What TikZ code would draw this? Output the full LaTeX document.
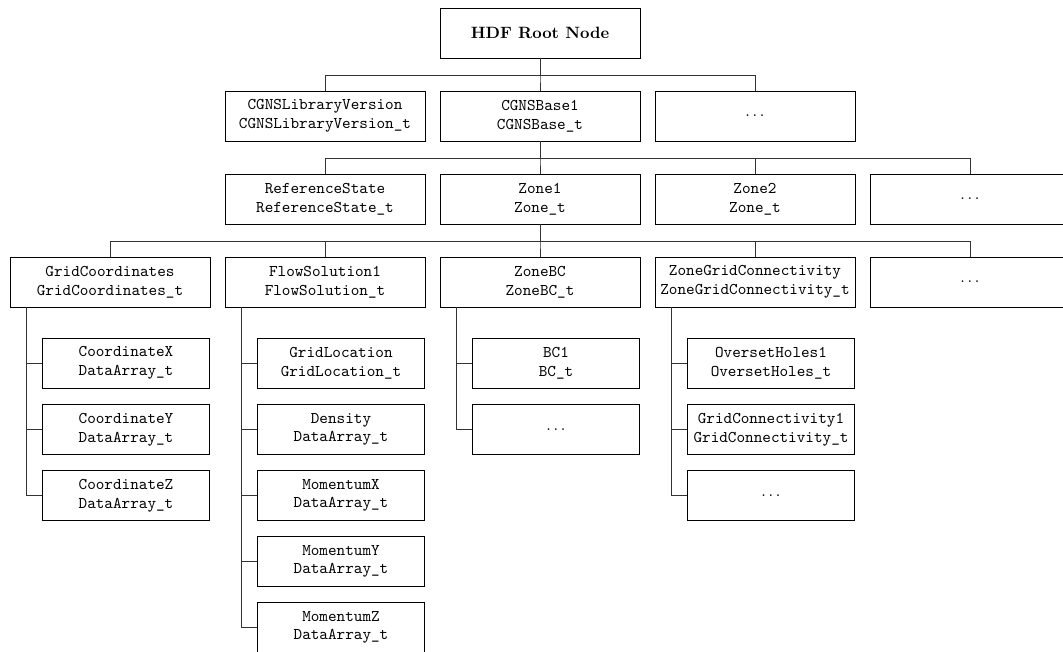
\documentclass[tikz,border=0pt]{standalone}
\usetikzlibrary{calc}
\begin{document}
\begin{tikzpicture}[x=0.61pt,y=-0.61pt,
  box/.style={draw=black, line width=0.5pt, minimum width=122pt, minimum height=30.5pt, inner sep=0pt,
    align=center, font=\ttfamily\fontsize{10}{11.4}\selectfont},
  kid/.style={box, minimum width=101.5pt},
  rootbox/.style={box, font=\bfseries\fontsize{10}{12}\selectfont},
  link/.style={draw=black!80, line width=0.5pt}]
\clip (0,0) rectangle (1063,651);
% rows
\node[rootbox] (root) at (540,33) {HDF Root Node};
\node[box] (libv) at (325,116) {CGNSLibraryVersion\\CGNSLibraryVersion\_t};
\node[box] (base) at (540,116) {CGNSBase1\\CGNSBase\_t};
\node[box] (d1) at (755,116) {$\ldots$};
\node[box] (ref) at (325,199) {ReferenceState\\ReferenceState\_t};
\node[box] (zone1) at (540,199) {Zone1\\Zone\_t};
\node[box] (zone2) at (755,199) {Zone2\\Zone\_t};
\node[box] (d2) at (970,199) {$\ldots$};
\node[box] (gc) at (110,282) {GridCoordinates\\GridCoordinates\_t};
\node[box] (fs) at (325,282) {FlowSolution1\\FlowSolution\_t};
\node[box] (zbc) at (540,282) {ZoneBC\\ZoneBC\_t};
\node[box] (zgc) at (755,282) {ZoneGridConnectivity\\ZoneGridConnectivity\_t};
\node[box] (d3) at (970,282) {$\ldots$};
% children
\node[kid] (cx) at (126,363) {CoordinateX\\DataArray\_t};
\node[kid] (cy) at (126,429.5) {CoordinateY\\DataArray\_t};
\node[kid] (cz) at (126,495.5) {CoordinateZ\\DataArray\_t};
\node[kid] (gl) at (341,363) {GridLocation\\GridLocation\_t};
\node[kid] (den) at (341,429.5) {Density\\DataArray\_t};
\node[kid] (mx) at (341,495.5) {MomentumX\\DataArray\_t};
\node[kid] (my) at (341,561.5) {MomentumY\\DataArray\_t};
\node[kid] (mz) at (341,627.5) {MomentumZ\\DataArray\_t};
\node[kid] (bc1) at (556,363) {BC1\\BC\_t};
\node[kid] (bcd) at (556,429.5) {$\ldots$};
\node[kid] (oh) at (771,363) {OversetHoles1\\OversetHoles\_t};
\node[kid] (gcn) at (771,429.5) {GridConnectivity1\\GridConnectivity\_t};
\node[kid] (gcd) at (771,495.5) {$\ldots$};
% tree connectors
\foreach \c in {libv,base,d1} \draw[link] (root.south) -- ++(0,16.5) -| (\c.north);
\foreach \c in {ref,zone1,zone2,d2} \draw[link] (base.south) -- ++(0,16.5) -| (\c.north);
\foreach \c in {gc,fs,zbc,zgc,d3} \draw[link] (zone1.south) -- ++(0,16.5) -| (\c.north);
% child connectors
\foreach \c in {cx,cy,cz} \draw[link] ($(gc.south west)+(17,0)$) |- (\c.west);
\foreach \c in {gl,den,mx,my,mz} \draw[link] ($(fs.south west)+(17,0)$) |- (\c.west);
\foreach \c in {bc1,bcd} \draw[link] ($(zbc.south west)+(17,0)$) |- (\c.west);
\foreach \c in {oh,gcn,gcd} \draw[link] ($(zgc.south west)+(17,0)$) |- (\c.west);
\end{tikzpicture}
\end{document}
